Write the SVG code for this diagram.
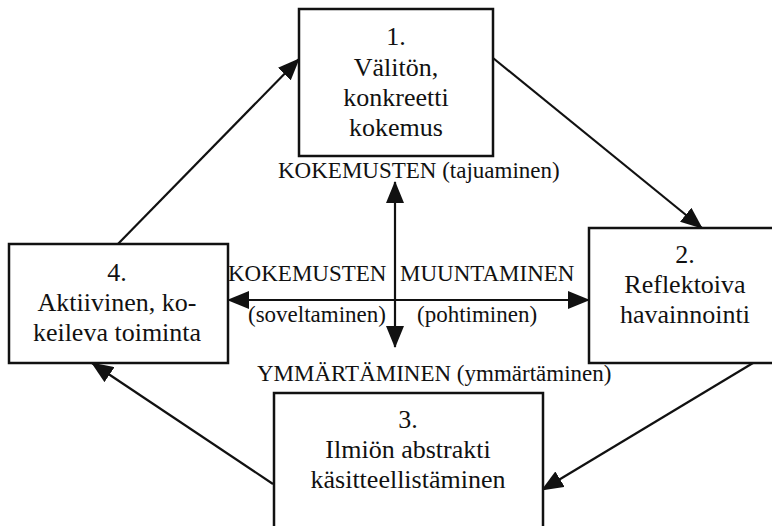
<svg xmlns="http://www.w3.org/2000/svg" width="772" height="526" viewBox="0 0 772 526">
<style>
.box{fill:#fff;stroke:#111;stroke-width:2.5}
.bt{font-family:"Liberation Serif","Times New Roman",serif;font-size:26px;fill:#111;text-anchor:middle}
.lb{font-family:"Liberation Serif","Times New Roman",serif;font-size:23px;fill:#111}
.ln{stroke:#111;stroke-width:2.2;fill:none;marker-end:url(#ah)}
.dl{stroke:#111;stroke-width:2.2;fill:none;marker-end:url(#ah);marker-start:url(#ah)}
</style>
<defs>
<marker id="ah" markerUnits="userSpaceOnUse" viewBox="0 0 22 18" refX="21" refY="9" markerWidth="22" markerHeight="18" orient="auto-start-reverse">
<path d="M0,0 L22,9 L0,18 z" fill="#111"/>
</marker>
</defs>
<rect width="772" height="526" fill="#fff"/>
<g id="connectors">
<line class="ln" x1="115" y1="247" x2="299" y2="59"/>
<line class="ln" x1="493" y1="58" x2="702" y2="228"/>
<line class="ln" x1="753" y1="363" x2="542" y2="490"/>
<line class="ln" x1="273" y1="484" x2="92" y2="363"/>
<line class="dl" x1="395" y1="182" x2="395" y2="347"/>
<line class="dl" x1="228" y1="300" x2="589" y2="300"/>
</g>
<g id="n1">
<rect class="box" x="299" y="9" width="194" height="147"/>
<text class="bt" x="396" y="45">1.</text>
<text class="bt" x="396" y="76">Välitön,</text>
<text class="bt" x="396" y="106">konkreetti</text>
<text class="bt" x="396" y="136">kokemus</text>
</g>
<g id="n2">
<rect class="box" x="589" y="228" width="200" height="135"/>
<text class="bt" x="685" y="263">2.</text>
<text class="bt" x="685" y="293">Reflektoiva</text>
<text class="bt" x="685" y="323">havainnointi</text>
</g>
<g id="n3">
<rect class="box" x="274" y="393" width="269" height="150"/>
<text class="bt" x="408" y="428">3.</text>
<text class="bt" x="408" y="458">Ilmiön abstrakti</text>
<text class="bt" x="408" y="488">käsitteellistäminen</text>
</g>
<g id="n4">
<rect class="box" x="9" y="244" width="219" height="119"/>
<text class="bt" x="117" y="281">4.</text>
<text class="bt" x="117" y="311">Aktiivinen, ko-</text>
<text class="bt" x="117" y="341">keileva toiminta</text>
</g>
<g id="labels">
<text class="lb" x="278" y="178">KOKEMUSTEN (tajuaminen)</text>
<text class="lb" x="228" y="281">KOKEMUSTEN</text>
<text class="lb" x="400" y="281">MUUNTAMINEN</text>
<text class="lb" x="248" y="322">(soveltaminen)</text>
<text class="lb" x="417" y="322">(pohtiminen)</text>
<text class="lb" x="257" y="381">YMMÄRTÄMINEN (ymmärtäminen)</text>
</g>
</svg>
